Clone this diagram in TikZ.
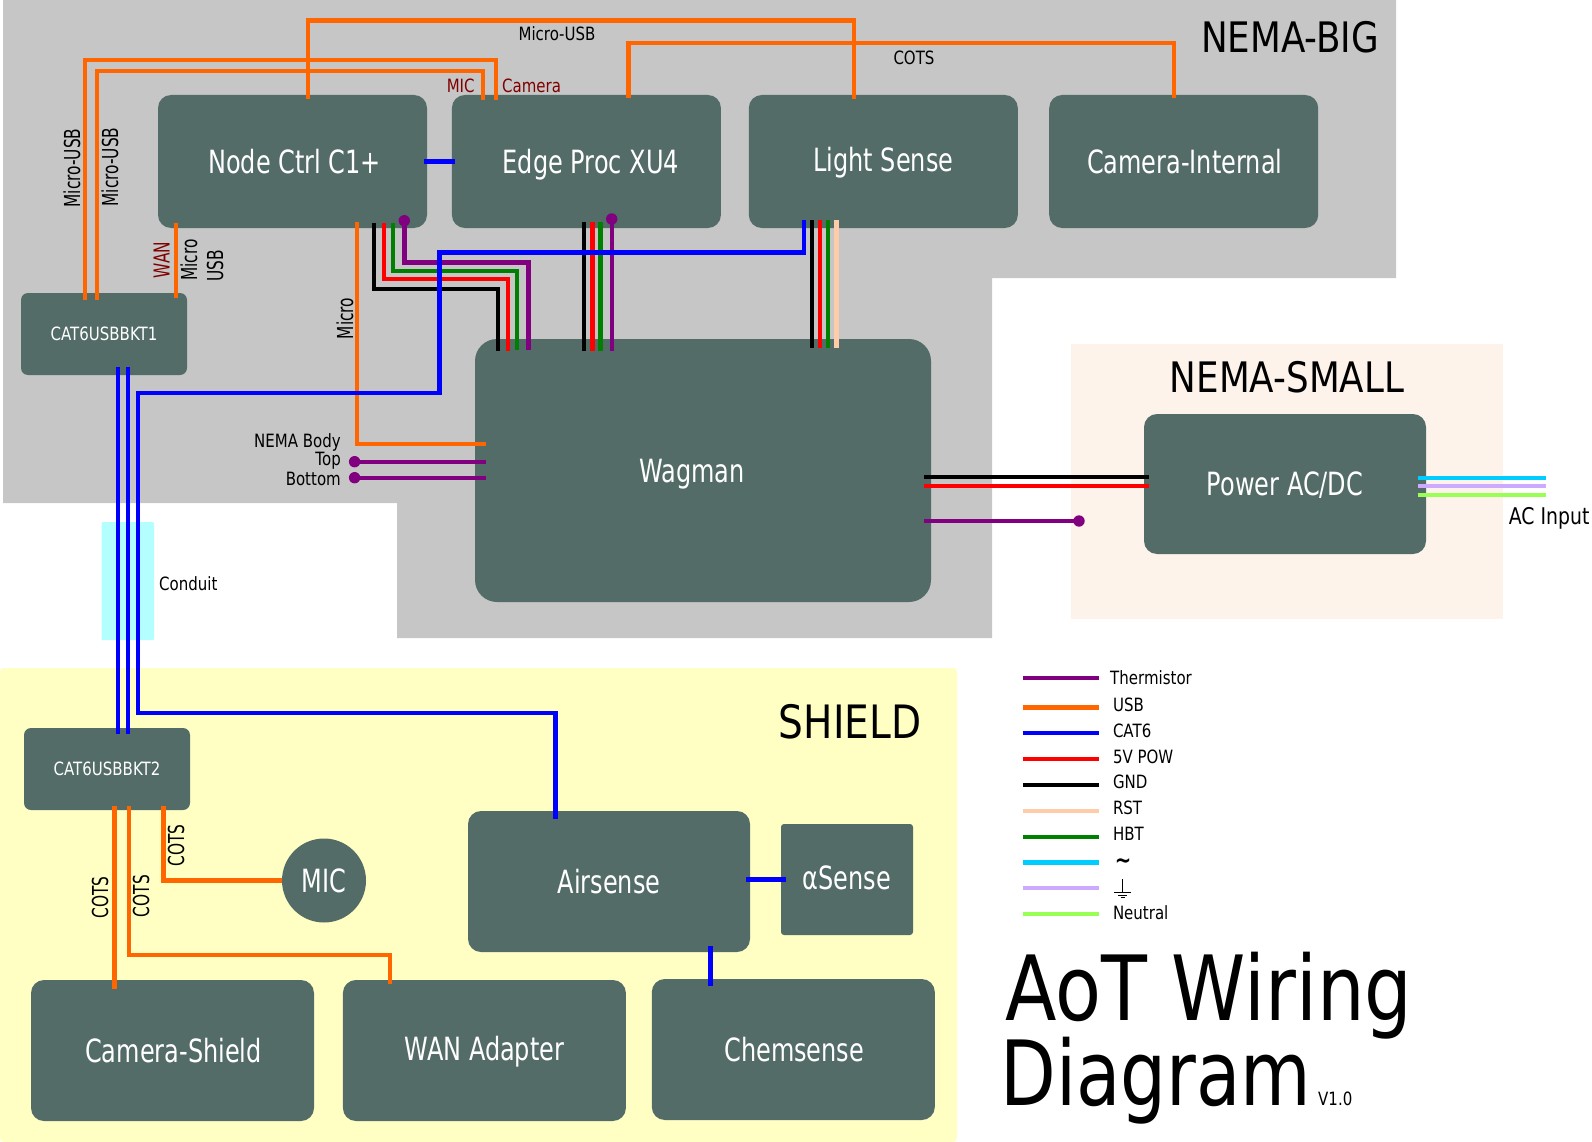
\documentclass[tikz,border=0pt]{standalone}
\usepackage{fontspec}
\usepackage{xcolor}
\usepackage{tikz}
\usetikzlibrary{calc,positioning}
\newfontfamily\boxfont{DejaVu Sans}[FakeStretch=0.75]
\newfontfamily\lblfont{DejaVu Sans}[FakeStretch=0.82]
\newfontfamily\sidefont{DejaVu Sans}[FakeStretch=0.70]
\newfontfamily\grpfont{DejaVu Sans}[FakeStretch=0.85]
\newfontfamily\titleafont{DejaVu Sans}[FakeStretch=0.835]
\newfontfamily\titlebfont{DejaVu Sans}[FakeStretch=0.805]
\definecolor{boxgray}{HTML}{536C67}
\definecolor{biggray}{HTML}{C6C6C6}
\definecolor{smallbg}{HTML}{FDF3EA}
\definecolor{shieldbg}{HTML}{FFFFC4}
\definecolor{conduitbg}{HTML}{B3FFFF}
\definecolor{usbcol}{HTML}{FF6600}
\definecolor{thermcol}{HTML}{800080}
\definecolor{catcol}{HTML}{0000FF}
\definecolor{powcol}{HTML}{FF0000}
\definecolor{gndcol}{HTML}{000000}
\definecolor{rstcol}{HTML}{FFCCAA}
\definecolor{hbtcol}{HTML}{008000}
\definecolor{accol}{HTML}{00CCFF}
\definecolor{earthcol}{HTML}{CCAAFF}
\definecolor{neutcol}{HTML}{99FF55}
\definecolor{redlbl}{HTML}{800000}
\tikzset{
  wire/.style={line width=4.4pt},
  usb/.style={wire, usbcol},
  cat/.style={wire, catcol},
  therm/.style={wire, thermcol},
  box/.style={fill=boxgray, text=white, rounded corners=13pt, inner sep=0pt, align=center,
    text height=23.4pt, text depth=0pt, font=\boxfont\fontsize{32}{36}\selectfont},
  nembox/.style={box, minimum width=269pt, minimum height=133pt},
  bktbox/.style={box, rounded corners=7pt, minimum width=166pt, minimum height=82pt,
    text height=13.4pt, font=\lblfont\fontsize{18.3}{22}\selectfont},
  shieldbox/.style={box, minimum width=283pt, minimum height=141pt},
  lbl/.style={inner sep=0pt, text height=13.4pt, text depth=0pt, font=\lblfont\fontsize{18.3}{22}\selectfont},
  side/.style={inner sep=0pt, rotate=90, text height=16pt, text depth=0pt, font=\sidefont\fontsize{22}{26}\selectfont},
  grouplbl/.style={inner sep=0pt, anchor=base, font=\grpfont\fontsize{42}{46}\selectfont},
  titlelbl/.style={inner sep=0pt, anchor=base west},
  dot/.style={circle, fill=thermcol, inner sep=0pt, minimum size=11.4pt}
}
\begin{document}
\begin{tikzpicture}[x=1pt,y=-1pt]
  \useasboundingbox (0,0) rectangle (1592,1142);
  \fill[biggray] (3,0) -- (1396,0) -- (1396,278) -- (992,278) -- (992,638) -- (397,638) -- (397,503) -- (3,503) -- cycle;
  \fill[smallbg] (1071,344) rectangle (1502.5,619);
  \fill[shieldbg, rounded corners=4pt] (0,668) -- (957,668) -- (957,1142) -- (0,1142) -- cycle;
  \fill[conduitbg, rounded corners=1pt] (101.5,522) rectangle (154,640);

  \node[nembox] (nodectrl) at (292.5,161.5) {\kern4pt Node Ctrl C1+};
  \node[nembox, right=24.5pt of nodectrl] (edge) {\kern9pt Edge Proc XU4};
  \node[nembox, right=27.5pt of edge] (lightsense) {\raisebox{2pt}{Light Sense}};
  \node[nembox, right=31pt of lightsense] (caminternal) {\kern2pt Camera-Internal};
  \node[bktbox] (bkta) at (104,334) {CAT6USBBKT1};
  \node[box, rounded corners=22pt, minimum width=456pt, minimum height=263pt] (wagman) at (703,470.5) {\kern-22pt Wagman};
  \node[box, minimum width=282pt, minimum height=140pt] (power) at (1285,484) {Power AC/DC};
  \node[bktbox] (bktb) at (107,769) {CAT6USBBKT2};
  \node[shieldbox, minimum width=282pt] (airsense) at (609,881.5) {Airsense};
  \node[box, rounded corners=3pt, minimum width=132pt, minimum height=111pt] (alphasense) at (847,879.5) {\raisebox{2pt}{αSense}};
  \node[box, circle, minimum size=84pt] (mic) at (324,880.5) {MIC};
  \node[shieldbox] (camshield) at (172.5,1050.5) {\kern2pt Camera-Shield};
  \node[shieldbox, right=28.5pt of camshield] (wan) {\raisebox{2pt}{WAN Adapter}};
  \node[shieldbox, right=25.5pt of wan, yshift=1pt] (chemsense) {\kern2pt Chemsense};

  \draw[usb] ([yshift=-4pt]nodectrl.north -| 308,0) |- (854,20.5) -- ([yshift=-4pt]lightsense.north -| 854,0);
  \draw[usb] ([yshift=-3pt]edge.north -| 628.5,0) |- (1174,43) -- ([yshift=-3pt]caminternal.north -| 1174,0);
  \draw[usb] ([yshift=-7pt]bkta.north -| 85,0) |- (496,60) -- ([yshift=-5pt]edge.north -| 496,0);
  \draw[usb] ([yshift=-7pt]bkta.north -| 97,0) |- (483,71) -- ([yshift=-5pt]edge.north -| 483,0);
  \draw[usb] ([yshift=5pt]nodectrl.south -| 176,0) -- ([yshift=-5pt]bkta.north -| 176,0);
  \draw[usb] ([yshift=6pt]nodectrl.south -| 357,0) |- ([xshift=11pt]wagman.west |- 0,444);

  \node[dot] (ncdot) at (404.3,220.7) {};
  \node[dot] (epdot) at (611.7,219) {};
  \draw[wire, gndcol] ([yshift=5pt]nodectrl.south -| 374,0) |- (497.7,288.7) -- ([yshift=-12pt]wagman.north -| 497.7,0);
  \draw[wire, powcol] ([yshift=5pt]nodectrl.south -| 383.7,0) |- (507.7,279) -- ([yshift=-12pt]wagman.north -| 507.7,0);
  \draw[wire, hbtcol] ([yshift=5.5pt]nodectrl.south -| 393,0) |- (517,270.7) -- ([yshift=-11pt]wagman.north -| 517,0);
  \draw[therm] (ncdot.center) |- (528.3,262.3) -- ([yshift=-11pt]wagman.north -| 528.3,0);

  \foreach \wx/\wcol in {583.7/gndcol, 592.3/powcol, 600.5/hbtcol}
    \draw[wire, \wcol] ([yshift=6pt]edge.south -| \wx,0) -- ([yshift=-11.7pt]wagman.north -| \wx,0);
  \draw[therm] (epdot.center) -- ([yshift=-11.7pt]wagman.north -| epdot);
  \foreach \wx/\wcol in {811.7/gndcol, 819.7/powcol, 828/hbtcol, 836.3/rstcol}
    \draw[wire, \wcol] ([yshift=8pt]lightsense.south -| \wx,0) -- ([yshift=-9pt]wagman.north -| \wx,0);

  \draw[cat] ([yshift=8pt]lightsense.south -| 803.7,0) |- (439.3,252.3) |- (138,392.7) |- (555.4,713) -- ([yshift=-8pt]airsense.north -| 555.4,0);
  \foreach \wx in {118,128}
    \draw[cat] ([yshift=8.3pt]bkta.south -| \wx,0) -- ([yshift=-6pt]bktb.north -| \wx,0);
  \draw[cat, line width=4.6pt] ([xshift=-3pt]nodectrl.east) -- ([xshift=3pt]edge.west);

  \node[dot] (topdot) at (354.6,461.7) {};
  \node[dot] (botdot) at (354.6,477.7) {};
  \draw[therm] (topdot.center) -- ([xshift=11pt]wagman.west |- topdot);
  \draw[therm] (botdot.center) -- ([xshift=11pt]wagman.west |- botdot);

  \draw[wire, gndcol] ([xshift=-7pt]wagman.east |- 0,477) -- ([xshift=5.5pt]power.west |- 0,477);
  \draw[wire, powcol] ([xshift=-7pt]wagman.east |- 0,485.7) -- ([xshift=5.5pt]power.west |- 0,485.7);
  \node[dot] (wagdot) at (1079,521) {};
  \draw[therm] ([xshift=-7pt]wagman.east |- wagdot) -- (wagdot.center);
  \foreach \wy/\wcol/\wname in {478/accol/acl, 486/earthcol/ace, 494.7/neutcol/acn} {
    \coordinate (\wname) at (1545.5,\wy);
    \draw[wire, \wcol] ([xshift=-8.3pt]power.east |- \wname) -- (\wname);
  }

  \draw[usb] ([yshift=4pt]bktb.south -| 114.5,0) -- ([yshift=-8.7pt]camshield.north -| 114.5,0);
  \draw[usb] ([yshift=4pt]bktb.south -| 129,0) |- (390,955) -- ([yshift=-4pt]wan.north -| 390,0);
  \draw[usb] ([yshift=4pt]bktb.south -| 163.5,0) |- (mic.west);
  \draw[cat, line width=4.6pt] ([xshift=-4pt]airsense.east |- alphasense) -- ([xshift=5pt]alphasense.west);
  \draw[cat] ([yshift=6pt]airsense.south -| 710.3,0) -- ([yshift=-7pt]chemsense.north -| 710.3,0);

  \node[grouplbl] (nemabig) at (1290,53) {NEMA-BIG};
  \node[grouplbl] (nemasmall) at (1287,392) {NEMA-SMALL};
  \node[grouplbl, font=\grpfont\fontsize{46}{50}\selectfont] (shieldlbl) at (850,738.7) {SHIELD};

  \node[lbl] (topusb) at (557,34) {Micro-USB};
  \node[lbl] (topcots) at (914,57.5) {COTS};
  \node[lbl, text=redlbl] (miclbl) at (460.7,85.7) {MIC};
  \node[lbl, text=redlbl] (camlbl) at (531.6,86) {Camera};
  \node[side] (usba) at (72,168) {Micro-USB};
  \node[side] (usbb) at (110,167) {Micro-USB};
  \node[side, text=redlbl] (wanlbl) at (161.7,260) {WAN};
  \node[side] (microa) at (189,260) {Micro};
  \node[side] (usbc) at (215,266) {USB};
  \node[side] (microb) at (345,318.5) {Micro};
  \node[lbl, anchor=east] (bodylbl) at (341,440.7) {NEMA Body};
  \node[lbl, anchor=east] (toplbl) at (341,459) {Top};
  \node[lbl, anchor=east] (botlbl) at (341,479) {Bottom};
  \node[lbl, anchor=west, text height=16.8pt, font=\lblfont\fontsize{23}{26}\selectfont] (aclbl) at (1508.6,516) {AC Input};
  \node[lbl, anchor=west] (conduit) at (159,584) {Conduit};
  \node[side] (cotsa) at (100,897.5) {COTS};
  \node[side] (cotsb) at (141,896) {COTS};
  \node[side] (cotsc) at (176,845.5) {COTS};

  \foreach \i/\ly/\tx/\ty/\lcol/\ltxt in {1/677.7/1110/677.7/thermcol/Thermistor, 2/707.3/1112.8/705/usbcol/USB, 3/733/1112.8/730.7/catcol/CAT6,
      4/759/1112.8/756.7/powcol/5V POW, 5/785/1112.8/782/gndcol/GND, 6/810.7/1112.8/808/rstcol/RST, 7/836.7/1112.8/834/hbtcol/HBT, 10/914/1112.8/913/neutcol/Neutral} {
    \coordinate (lega\i) at (1022.5,\ly);
    \coordinate (legb\i) at (1098.7,\ly);
    \draw[wire, \lcol] (lega\i) -- (legb\i);
    \node[lbl, anchor=west] (legt\i) at (\tx,\ty) {\ltxt};
  }
  \foreach \i/\ly/\lcol in {8/862.3/accol, 9/888/earthcol} {
    \coordinate (lega\i) at (1022.5,\ly);
    \coordinate (legb\i) at (1098.7,\ly);
    \draw[wire, \lcol] (lega\i) -- (legb\i);
  }
  \node[inner sep=0pt, font=\lblfont\bfseries\fontsize{24}{26}\selectfont] (legt8) at (1123,864) {∼};
  % no installed family has the earth sign
  \coordinate (earth) at (1122.5,892.7);
  \draw[line width=0.9pt] (1122.5,879) -- (earth) (1114,892.7) -- (1131,892.7) (1118,895.3) -- (1127,895.3) (1120.5,897.7) -- (1124.5,897.7);

  \node[titlelbl, font=\titleafont\fontsize{90}{96}\selectfont] (titlea) at (1005.6,1020) {AoT Wiring};
  \node[titlelbl, font=\titlebfont\fontsize{90}{96}\selectfont] (titleb) at (1000,1105.7) {Diagram};
  \node[inner sep=0pt, anchor=base west, font=\lblfont\fontsize{18.3}{22}\selectfont] (version) at (1318,1105.7) {V1.0};
\end{tikzpicture}
\end{document}
